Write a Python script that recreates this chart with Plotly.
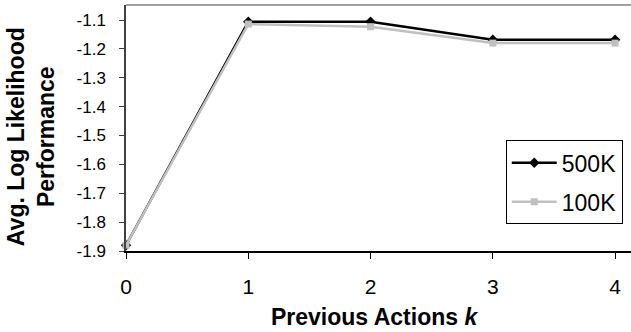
import plotly.graph_objects as go

k_values = [0, 1, 2, 3, 4]
series_500k = [-1.88, -1.106, -1.106, -1.168, -1.168]
series_100k = [-1.88, -1.114, -1.123, -1.180, -1.180]
y_ticks = [-1.9, -1.8, -1.7, -1.6, -1.5, -1.4, -1.3, -1.2, -1.1]
y_tick_labels = ["-1.9", "-1.8", "-1.7", "-1.6", "-1.5", "-1.4", "-1.3", "-1.2", "-1.1"]

FONT = "Liberation Sans, Arial, sans-serif"

fig = go.Figure()
fig.add_trace(go.Scatter(
    x=k_values, y=series_500k, name="500K", mode="lines+markers",
    line=dict(color="black", width=2.5),
    marker=dict(symbol="diamond", size=8, color="black"),
    cliponaxis=False, legendgroup="a"))
fig.add_trace(go.Scatter(
    x=k_values, y=series_100k, name="100K", mode="lines+markers",
    line=dict(color="#c0c0c0", width=2.5),
    marker=dict(symbol="square", size=7, color="#c0c0c0"),
    cliponaxis=False, legendgroup="b"))

fig.update_layout(
    width=631, height=332,
    margin=dict(l=126, r=0, t=5, b=81),
    plot_bgcolor="white", paper_bgcolor="white",
    font=dict(family=FONT, color="black"),
    showlegend=True,
    legend=dict(x=0.752, y=0.45, xanchor="left", yanchor="top",
                bordercolor="black", borderwidth=1, bgcolor="white",
                itemwidth=45,
                font=dict(size=23, family=FONT), tracegroupgap=6),
    xaxis=dict(range=[0, 4.13], tickmode="array", tickvals=k_values,
               ticktext=[str(v) for v in k_values],
               showgrid=False, zeroline=False, showline=True,
               linecolor="black", linewidth=1.5,
               ticks="outside", ticklen=6, tickcolor="black",
               ticklabelstandoff=10,
               tickfont=dict(size=21, family=FONT)),
    yaxis=dict(range=[-1.9, -1.048], tickmode="array", tickvals=y_ticks,
               ticktext=y_tick_labels,
               showgrid=False, zeroline=False, showline=True,
               linecolor="#404040", linewidth=1.5,
               ticks="outside", ticklen=5, tickcolor="#404040",
               ticklabelstandoff=10,
               tickfont=dict(size=17, family=FONT)),
    shapes=[dict(type="line", xref="paper", yref="paper", x0=0, x1=1, y0=1, y1=1,
                 line=dict(color="#808080", width=1.5))],
    annotations=[
        dict(text="<b>Avg. Log Likelihood<br>Performance</b>", textangle=-90,
             xref="paper", yref="paper", x=-0.188, y=0.463,
             xanchor="center", yanchor="middle", showarrow=False,
             font=dict(size=23, family=FONT)),
        dict(text="<b>Previous Actions <i>k</i></b>",
             xref="paper", yref="paper", x=0.493, y=-0.268,
             xanchor="center", yanchor="middle", showarrow=False,
             font=dict(size=23, family=FONT)),
    ],
)

fig.write_html("out.html", config={"displayModeBar": False},
               post_script="document.body.style.margin='0';")
